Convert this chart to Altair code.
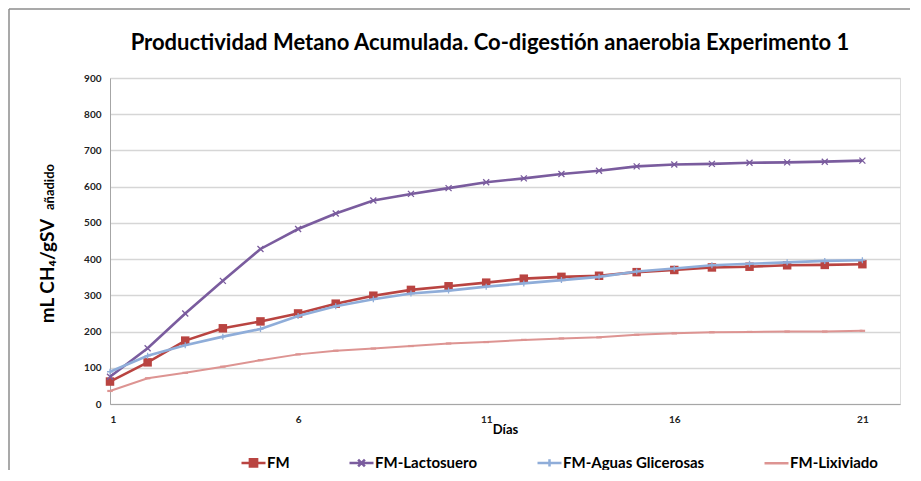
import altair as alt
import pandas as pd

days = list(range(1, 22))
fm = [62, 115, 175, 209, 228, 250, 277, 299, 315, 325, 335, 346, 351, 354, 364, 370, 377, 379, 383, 384, 386]
lacto = [75, 154, 250, 340, 428, 483, 526, 562, 580, 596, 612, 623, 635, 644, 656, 661, 663, 666, 667, 669, 672]
aguas = [89, 133, 162, 186, 207, 243, 270, 289, 305, 313, 324, 333, 342, 351, 366, 374, 383, 387, 391, 395, 397]
lixi = [36, 71, 86, 103, 121, 137, 147, 153, 160, 167, 171, 177, 181, 184, 191, 195, 198, 199, 200, 200, 202]

series_names = ["FM", "FM-Lactosuero", "FM-Aguas Glicerosas", "FM-Lixiviado"]
colors = ["#B94441", "#7A5C9E", "#8FADD9", "#DD9492"]
x_ticks = [1, 6, 11, 16, 21]
y_ticks = list(range(0, 1000, 100))
title_text = "Productividad Metano Acumulada. Co-digestión anaerobia Experimento 1"

marker_shapes = ["square", "M-1,-1L1,1M-1,1L1,-1", "M0,-1V1M-1,0H1", "M-1,0H1"]
legend_paths = [
    "M-1,0H1M-0.3,-0.3H0.3V0.3H-0.3ZM-0.3,-0.15H0.3M-0.3,0.15H0.3M-0.15,-0.3V0.3M0.15,-0.3V0.3",
    "M-1,0H1M-0.28,-0.28L0.28,0.28M-0.28,0.28L0.28,-0.28",
    "M-1,0H1M0,-0.3V0.3",
    "M-1,0H1",
]

rows = []
for name, vals in zip(series_names, [fm, lacto, aguas, lixi]):
    for d, v in zip(days, vals):
        rows.append({"dia": d, "serie": name, "valor": v})
df = pd.DataFrame(rows)

FONT = "Lato"

x = alt.X(
    "dia:Q",
    scale=alt.Scale(domain=[1, 22], nice=False, zero=False),
    axis=alt.Axis(
        values=x_ticks, title="Días", grid=False, ticks=False,
        labelFont=FONT, labelFontSize=10, labelFontWeight="bold", labelColor="#222",
        labelPadding=10, domainColor="#A6A6A6", domainWidth=1,
        titleFont=FONT, titleFontSize=13, titleFontWeight="bold", titleColor="#000",
        titleY=29, titleBaseline="alphabetic",
    ),
)
y = alt.Y(
    "valor:Q",
    scale=alt.Scale(domain=[0, 900], nice=False),
    axis=alt.Axis(
        values=y_ticks, title=None, ticks=False, grid=True,
        gridColor="#D6D6D6", gridWidth=1.3,
        labelFont=FONT, labelFontSize=10, labelFontWeight="bold", labelColor="#222",
        labelPadding=9, domainColor="#A6A6A6", domainWidth=1,
    ),
)

layers = []
for i, name in enumerate(series_names):
    base = alt.Chart(df).transform_filter(alt.datum.serie == name)
    layers.append(
        base.mark_line(color=colors[i], strokeWidth=2.0 if i == 3 else 2.6).encode(x=x, y=y)
    )
    if i == 0:
        pts = base.mark_point(shape=marker_shapes[i], filled=True, size=72, color=colors[i], opacity=1)
    elif i == 3:
        pts = base.mark_point(shape=marker_shapes[i], filled=False, size=30, strokeWidth=2.2, color=colors[i], opacity=1)
    else:
        pts = base.mark_point(shape=marker_shapes[i], filled=False, size=36, strokeWidth=1.3, color=colors[i], opacity=1)
    layers.append(pts.encode(x=x, y=y))

leg = alt.Legend(
    title=None, orient="none", legendX=130, legendY=371, direction="horizontal",
    labelFont=FONT, labelFontSize=15, labelFontWeight="bold", labelColor="#000",
    symbolSize=576, symbolStrokeWidth=2.5, labelOffset=0, columnPadding=54,
)
legend_layer = alt.Chart(df).mark_point(opacity=0, filled=True).encode(
    x=x, y=y,
    fill=alt.Fill("serie:N", scale=alt.Scale(domain=series_names, range=colors), legend=leg),
    stroke=alt.Stroke("serie:N", scale=alt.Scale(domain=series_names, range=colors), legend=leg),
    shape=alt.Shape("serie:N", scale=alt.Scale(domain=series_names, range=legend_paths), legend=leg),
)
layers.append(legend_layer)

title_layer = alt.Chart(pd.DataFrame({"t": [title_text]})).mark_text(
    align="center", baseline="middle", font=FONT, fontSize=22, fontWeight="bold", color="#000"
).encode(x=alt.value(380), y=alt.value(-35), text="t:N")
ytitle_main = alt.Chart(pd.DataFrame({"t": ["mL CH₄/gSV"]})).mark_text(
    angle=270, align="center", baseline="middle", font=FONT, fontSize=19, fontWeight="bold", color="#000"
).encode(x=alt.value(-62), y=alt.value(193), text="t:N")
ytitle_sub = alt.Chart(pd.DataFrame({"t": ["añadido"]})).mark_text(
    angle=270, align="center", baseline="middle", font=FONT, fontSize=13, fontWeight="bold", color="#000"
).encode(x=alt.value(-60), y=alt.value(109), text="t:N")
layers += [title_layer, ytitle_main, ytitle_sub]

frame_df = pd.DataFrame({"k": [0]})
frame_left = alt.Chart(frame_df).mark_rule(color="#8C8C8C", strokeWidth=1.5).encode(
    x=alt.value(-101), y=alt.value(-69), y2=alt.value(400)
)
frame_top = alt.Chart(frame_df).mark_rule(color="#8C8C8C", strokeWidth=1.5).encode(
    x=alt.value(-101), x2=alt.value(805), y=alt.value(-69)
)
layers += [frame_left, frame_top]

chart = alt.layer(*layers).properties(
    width=790, height=326,
    autosize=alt.AutoSizeParams(type="none"),
    padding={"left": 102, "top": 70, "right": 10, "bottom": 66},
).configure_view(stroke=None).configure(background="white")

chart.save("out.html", embed_options={"renderer": "svg", "actions": False})
